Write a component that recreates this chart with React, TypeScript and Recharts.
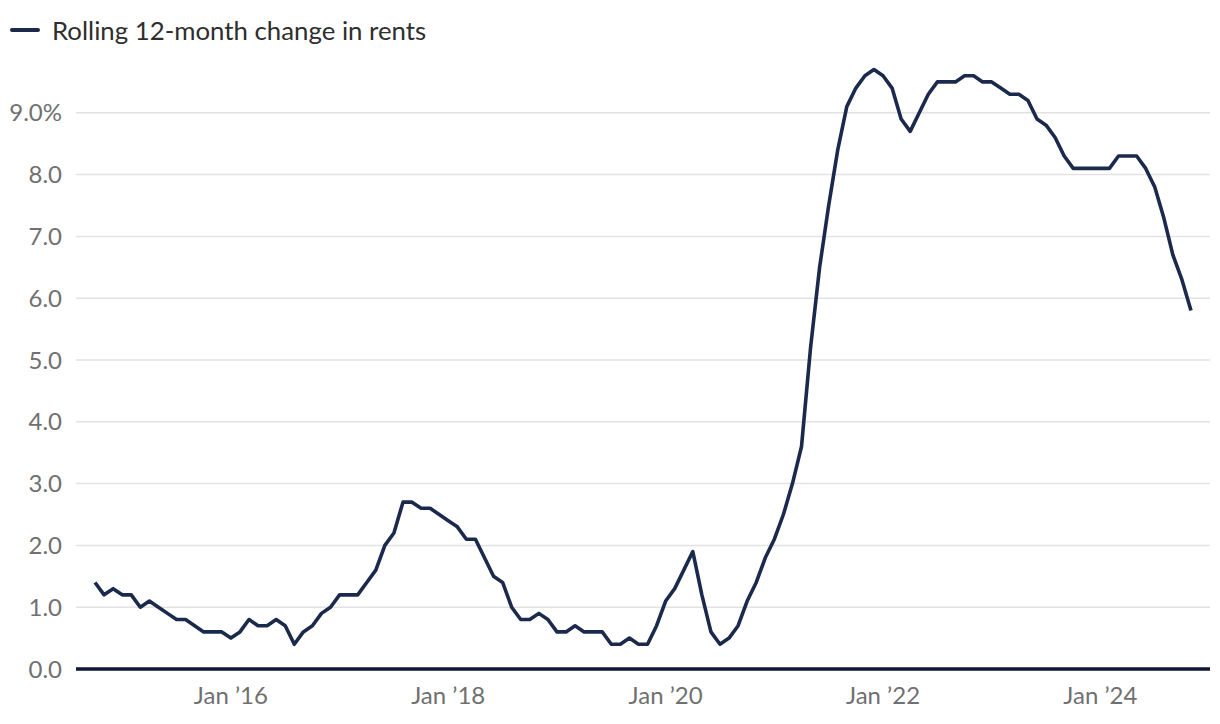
import { CartesianGrid, Legend, Line, LineChart, XAxis, YAxis } from "recharts";

// monthly, Oct 2014 .. Nov 2024
const startYear = 2014;
const startMonth = 10;

const rentChange = [
  1.4, 1.2, 1.3,
  1.2, 1.2, 1.0, 1.1, 1.0, 0.9, 0.8, 0.8, 0.7, 0.6, 0.6, 0.6,
  0.5, 0.6, 0.8, 0.7, 0.7, 0.8, 0.7, 0.4, 0.6, 0.7, 0.9, 1.0,
  1.2, 1.2, 1.2, 1.4, 1.6, 2.0, 2.2, 2.7, 2.7, 2.6, 2.6, 2.5,
  2.4, 2.3, 2.1, 2.1, 1.8, 1.5, 1.4, 1.0, 0.8, 0.8, 0.9, 0.8,
  0.6, 0.6, 0.7, 0.6, 0.6, 0.6, 0.4, 0.4, 0.5, 0.4, 0.4, 0.7,
  1.1, 1.3, 1.6, 1.9, 1.2, 0.6, 0.4, 0.5, 0.7, 1.1, 1.4, 1.8,
  2.1, 2.5, 3.0, 3.6, 5.2, 6.5, 7.5, 8.4, 9.1, 9.4, 9.6, 9.7,
  9.6, 9.4, 8.9, 8.7, 9.0, 9.3, 9.5, 9.5, 9.5, 9.6, 9.6, 9.5,
  9.5, 9.4, 9.3, 9.3, 9.2, 8.9, 8.8, 8.6, 8.3, 8.1, 8.1, 8.1,
  8.1, 8.1, 8.3, 8.3, 8.3, 8.1, 7.8, 7.3, 6.7, 6.3, 5.8,
];

const tickMonths = ["2016-01", "2018-01", "2020-01", "2022-01", "2024-01"];
const tickLabels = ["Jan ’16", "Jan ’18", "Jan ’20", "Jan ’22", "Jan ’24"];
const yTicks = [0, 1, 2, 3, 4, 5, 6, 7, 8, 9];
const seriesName = "Rolling 12-month change in rents";

const NAVY = "#1b2a4c";
const FONT = "Lato, 'Noto Sans', sans-serif";

function monthKey(i: number) {
  const m0 = startMonth - 1 + i;
  const y = startYear + Math.floor(m0 / 12);
  const m = (m0 % 12) + 1;
  return `${y}-${String(m).padStart(2, "0")}`;
}

const data = rentChange.map((v, i) => ({ t: i, month: monthKey(i), value: v }));
const tickIdx = tickMonths.map((m) => data.findIndex((d) => d.month === m));

function LegendContent() {
  return (
    <div style={{ display: "flex", alignItems: "center", height: 40, fontFamily: FONT }}>
      <svg width={40} height={10} style={{ marginLeft: 4 }}>
        <line x1={8} y1={5} x2={34} y2={5} stroke={NAVY} strokeWidth={4} strokeLinecap="round" />
      </svg>
      <span style={{ fontSize: 25.8, color: "#2e2e2e", marginLeft: 8 }}>{seriesName}</span>
    </div>
  );
}

export default function App() {
  return (
    <div style={{ position: "absolute", left: 0, top: 0, width: 1220, height: 724, background: "#fff" }}>
      <LineChart width={1220} height={724} data={data} margin={{ top: 11, right: 10, left: 0, bottom: 0 }}>
        <Legend verticalAlign="top" align="left" content={<LegendContent />} wrapperStyle={{ top: 10, left: 0 }} />
        <CartesianGrid
          horizontal
          vertical={false}
          horizontalValues={yTicks}
          stroke="#e2e2e2"
          strokeWidth={1.5}
        />
        <XAxis
          dataKey="t"
          type="number"
          domain={[-2.1, 123.1]}
          ticks={tickIdx}
          tickFormatter={(v) => tickLabels[tickIdx.indexOf(v)] ?? ""}
          tick={{ fontSize: 24, fill: "#707070", fontFamily: FONT }}
          axisLine={{ stroke: "#0e1734", strokeWidth: 3.5 }}
          tickLine={false}
          tickMargin={12}
          height={55}
        />
        <YAxis
          domain={[0, 10]}
          ticks={yTicks}
          tickFormatter={(v) => (v === 9 ? "9.0%" : Number(v).toFixed(1))}
          tick={{ fontSize: 24, fill: "#707070", fontFamily: FONT }}
          axisLine={false}
          tickLine={false}
          tickMargin={8}
          width={76}
        />
        <Line
          type="linear"
          dataKey="value"
          name={seriesName}
          stroke={NAVY}
          strokeWidth={3.6}
          dot={false}
          isAnimationActive={false}
          strokeLinejoin="round"
        />
      </LineChart>
    </div>
  );
}
